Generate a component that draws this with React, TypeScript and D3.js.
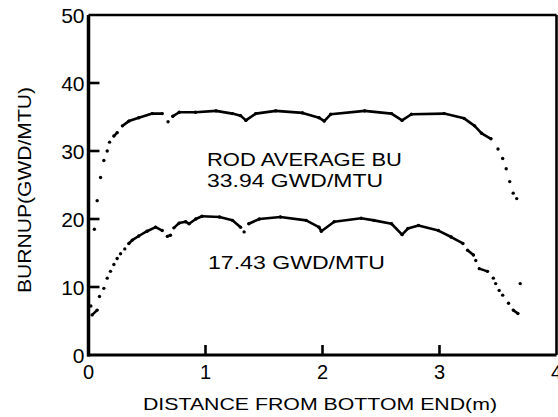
import React from "react";
import * as d3 from "d3";

const xTicks = [0, 1, 2, 3, 4];
const yTicks = [0, 10, 20, 30, 40, 50];

const upperX = [0.05, 0.074, 0.103, 0.131, 0.16, 0.18, 0.217, 0.245, 0.29, 0.345, 0.43, 0.545, 0.63, 0.68, 0.72, 0.775, 0.915, 1.09, 1.23, 1.3, 1.345, 1.43, 1.6, 1.83, 1.97, 2.015, 2.07, 2.36, 2.59, 2.68, 2.76, 3.04, 3.21, 3.3, 3.36, 3.44, 3.5, 3.54, 3.57, 3.6, 3.63, 3.66];
const upperY = [18.5, 22.7, 26.1, 28.6, 30.0, 31.3, 32.2, 32.7, 33.7, 34.4, 34.9, 35.5, 35.5, 34.3, 35.1, 35.7, 35.7, 35.9, 35.5, 35.2, 34.5, 35.5, 35.9, 35.6, 34.9, 34.4, 35.4, 35.9, 35.5, 34.5, 35.4, 35.5, 34.8, 33.7, 32.6, 31.8, 30.3, 28.9, 27.4, 25.5, 23.8, 23.0];

const lowerX = [0.02, 0.031, 0.074, 0.094, 0.131, 0.16, 0.188, 0.217, 0.245, 0.274, 0.31, 0.345, 0.374, 0.43, 0.5, 0.574, 0.63, 0.674, 0.7, 0.73, 0.775, 0.83, 0.86, 0.917, 0.97, 1.12, 1.23, 1.3, 1.33, 1.37, 1.46, 1.64, 1.86, 1.97, 1.99, 2.1, 2.33, 2.44, 2.59, 2.68, 2.73, 2.82, 2.99, 3.1, 3.2, 3.24, 3.29, 3.31, 3.34, 3.41, 3.46, 3.48, 3.51, 3.54, 3.59, 3.63, 3.67, 3.69];
const lowerY = [7.2, 5.9, 6.6, 8.6, 9.8, 11.3, 12.3, 13.3, 14.2, 14.9, 15.6, 16.4, 16.9, 17.5, 18.2, 18.8, 18.3, 17.45, 17.6, 18.7, 19.4, 19.6, 19.3, 20.0, 20.4, 20.3, 19.8, 18.8, 18.1, 19.3, 20.0, 20.3, 19.8, 18.8, 18.2, 19.6, 20.1, 19.8, 19.3, 17.7, 18.6, 19.05, 18.3, 17.35, 16.4, 15.4, 14.7, 13.9, 12.7, 12.3, 11.3, 10.5, 9.5, 8.8, 7.6, 6.6, 6.1, 10.5];

const annotLines = ["ROD AVERAGE BU", "33.94 GWD/MTU", "17.43 GWD/MTU"];
const xTitle = "DISTANCE FROM BOTTOM END(m)";
const yTitle = "BURNUP(GWD/MTU)";

const W = 558;
const H = 417;
const left = 88.5;
const right = 556.5;
const top = 15;
const bottom = 355;

const FONT = "'Liberation Sans', Arial, sans-serif";

function Series({ xs, ys, x, y }: { xs: number[]; ys: number[]; x: any; y: any }) {
  const pts = xs.map((v, i) => [x(v), y(ys[i])] as [number, number]);
  const segs: JSX.Element[] = [];
  for (let i = 1; i < pts.length; i++) {
    const [x0, y0] = pts[i - 1];
    const [x1, y1] = pts[i];
    const dx = Math.abs(x1 - x0);
    const dy = Math.abs(y1 - y0);
    const dist = Math.hypot(dx, dy);
    if (dx > 0 && dx < 45 && (dy / dx < 1.1 || dist < 5.5)) {
      segs.push(<line key={"s" + i} x1={x0} y1={y0} x2={x1} y2={y1} stroke="#000" strokeWidth={2.6} strokeLinecap="round" />);
    }
  }
  return (
    <g>
      {segs}
      {pts.map((p, i) => (
        <circle key={i} cx={p[0]} cy={p[1]} r={1.7} fill="#000" />
      ))}
    </g>
  );
}

export default function App() {
  const x = d3.scaleLinear().domain([0, 4]).range([left, right]);
  const y = d3.scaleLinear().domain([0, 50]).range([bottom, top]);

  return (
    <svg width={W} height={H} style={{ position: "fixed", left: 0, top: 0, background: "#fff" }} fontFamily={FONT}>
      <rect x={0} y={0} width={W} height={H} fill="#fff" />
      {/* frame */}
      <line x1={left} y1={top} x2={left} y2={bottom + 1.5} stroke="#000" strokeWidth={3.5} />
      <line x1={left - 1.5} y1={bottom} x2={right} y2={bottom} stroke="#000" strokeWidth={3} />
      <line x1={left} y1={top} x2={right} y2={top} stroke="#000" strokeWidth={2.6} />
      <line x1={right} y1={top} x2={right} y2={bottom} stroke="#000" strokeWidth={2.6} />
      {/* ticks */}
      {yTicks.slice(1, -1).map((t) => (
        <line key={"yt" + t} x1={left} x2={left + 11} y1={y(t)} y2={y(t)} stroke="#000" strokeWidth={2.6} />
      ))}
      {xTicks.slice(1, -1).map((t) => (
        <line key={"xt" + t} x1={x(t)} x2={x(t)} y1={bottom} y2={bottom - 10} stroke="#000" strokeWidth={2.6} />
      ))}
      {/* y tick labels */}
      {yTicks.map((t) => (
        <text key={"yl" + t} x={left - 4} y={y(t) + 7.5} textAnchor="end" fontSize={21} fill="#000">
          {t}
        </text>
      ))}
      {/* x tick labels */}
      {xTicks.map((t) => (
        <text key={"xl" + t} x={x(t)} y={379} textAnchor="middle" fontSize={20} fill="#000">
          {t}
        </text>
      ))}
      {/* axis titles */}
      <text x={143} y={410} fontSize={17} textLength={354} lengthAdjust="spacingAndGlyphs" fill="#000">
        {xTitle}
      </text>
      <text transform="translate(31,190) rotate(-90)" textAnchor="middle" fontSize={18} textLength={206} lengthAdjust="spacingAndGlyphs" fill="#000">
        {yTitle}
      </text>
      {/* annotations */}
      <text x={207} y={166} fontSize={19} textLength={195} lengthAdjust="spacingAndGlyphs" fill="#000">
        {annotLines[0]}
      </text>
      <text x={207} y={187} fontSize={19} textLength={176} lengthAdjust="spacingAndGlyphs" fill="#000">
        {annotLines[1]}
      </text>
      <text x={208} y={269} fontSize={19} textLength={177} lengthAdjust="spacingAndGlyphs" fill="#000">
        {annotLines[2]}
      </text>
      {/* data */}
      <Series xs={upperX} ys={upperY} x={x} y={y} />
      <Series xs={lowerX} ys={lowerY} x={x} y={y} />
    </svg>
  );
}
